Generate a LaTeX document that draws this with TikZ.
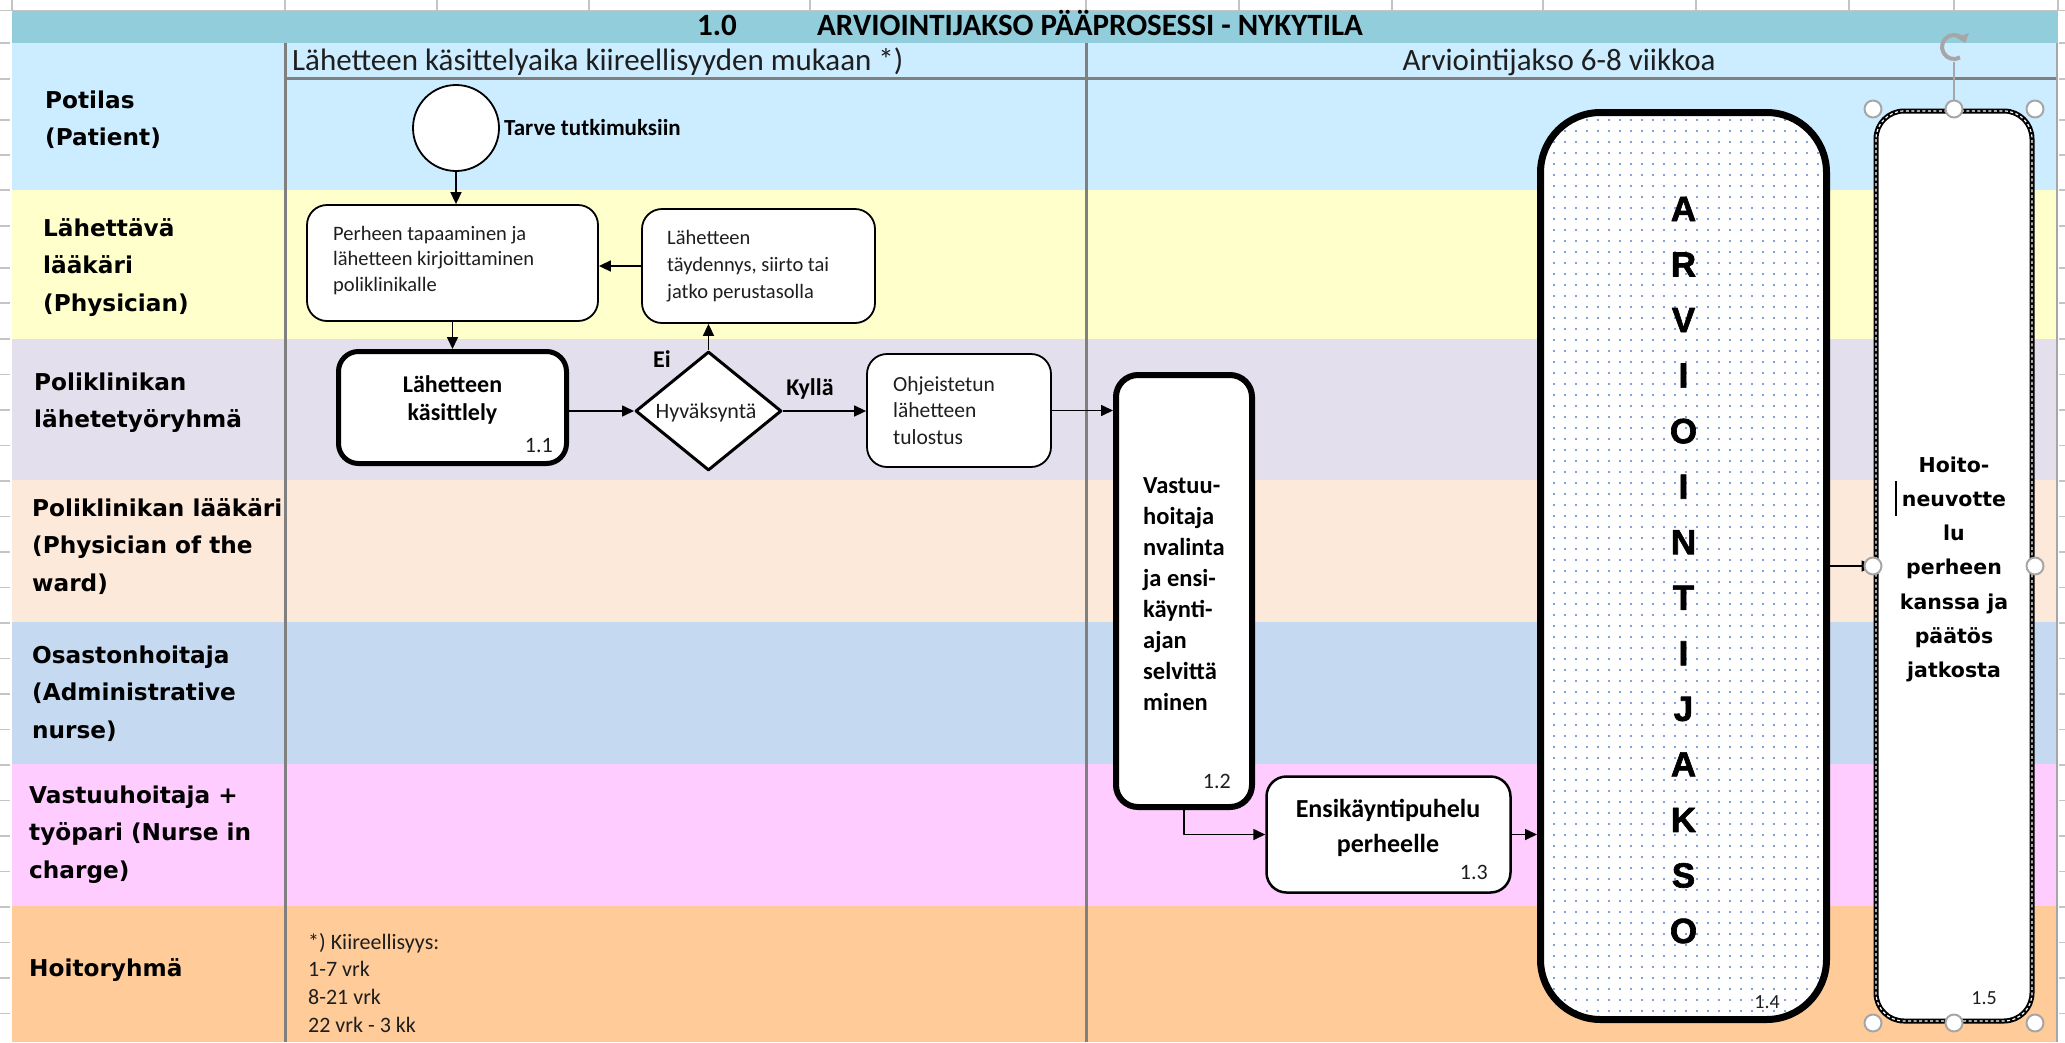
\documentclass[tikz,border=0pt]{standalone}
\usepackage{fontspec}
\setmainfont{Carlito}
\newfontfamily\lanefont{DejaVu Sans}
\newfontfamily\blockfont{Liberation Sans Bold}[FakeBold=1.8]
\usetikzlibrary{arrows.meta,shapes.geometric,patterns.meta,calc}

\definecolor{titleband}{HTML}{92CDDC}
\definecolor{laneA}{HTML}{CCECFF}
\definecolor{laneB}{HTML}{FFFFCC}
\definecolor{laneC}{HTML}{E4DFEC}
\definecolor{laneD}{HTML}{FDE9D9}
\definecolor{laneE}{HTML}{C5D9F1}
\definecolor{laneF}{HTML}{FFCCFF}
\definecolor{laneG}{HTML}{FFCC99}
\definecolor{gridgray}{HTML}{808080}
\definecolor{tickgray}{HTML}{C4C4C4}
\definecolor{dotblue}{HTML}{5A82C6}
\definecolor{handlegray}{HTML}{A6A6A6}
\definecolor{inkgray}{HTML}{1E1E1E}

% multi-line text blocks whose baseline is the first line
\newcommand\Lstack[1]{\vtop{\halign{##\hfil\cr#1\crcr}}}
\newcommand\Cstack[1]{\vtop{\halign{\hfil##\hfil\cr#1\crcr}}}

% sparse dot grid used as the fill of the long assessment block
\tikzdeclarepattern{
  name=visiodots, type=uncolored,
  bounding box={(-5.25pt,-5.25pt) and (5.25pt,5.25pt)},
  tile size={(10.5pt,10.5pt)},
  code={\fill (0pt,0pt) circle (1.15pt);}
}

\tikzset{
  lanelabel/.style={font=\lanefont\bfseries\fontsize{23.2}{37.5}\selectfont, anchor=base west, inner sep=0pt, text=black},
  titletext/.style={font=\bfseries\fontsize{31}{31}\selectfont, inner sep=0pt, text=black},
  hdrtext/.style={font=\fontsize{31}{31}\selectfont, inner sep=0pt, text=inkgray},
  boxtext/.style={font=\fontsize{20.5}{25.5}\selectfont, anchor=base west, inner sep=0pt, text=inkgray},
  boldtext/.style={font=\bfseries\fontsize{24}{28}\selectfont, inner sep=0pt, text=black},
  stepno/.style={font=\fontsize{22}{22}\selectfont, anchor=base east, inner sep=0pt, text=inkgray},
  proc/.style={draw=black, line width=1.8pt, rounded corners=20pt, fill=white, inner sep=0pt},
  procthick/.style={proc, line width=5pt},
  flow/.style={draw=black, line width=1.6pt, -{Triangle[length=12pt,width=11pt]}},
  selhandle/.style={circle, draw=handlegray, line width=2pt, fill=white, minimum size=17pt, inner sep=0pt},
  bigletter/.style={font=\blockfont\fontsize{35}{35}\selectfont, anchor=base, inner sep=0pt, text=black},
}

\begin{document}
\begin{tikzpicture}[x=1pt, y=-1pt, line join=round]
\useasboundingbox (0,0) rectangle (2065,1042);
\fill[white] (0,0) rectangle (2065,1042);

% ---- swimlane background ----
\fill[titleband] (12,10) rectangle (2058,43);
\fill[laneA] (12,43) rectangle (2058,190);
\fill[laneB] (12,190) rectangle (2058,339);
\fill[laneC] (12,339) rectangle (2058,480);
\fill[laneD] (12,480) rectangle (2058,622);
\fill[laneE] (12,622) rectangle (2058,764);
\fill[laneF] (12,764) rectangle (2058,906);
\fill[laneG] (12,906) rectangle (2058,1042);

% sheet grid ticks around the edges
\draw[tickgray, line width=1pt] (0,10) -- (2065,10);
\foreach \cx in {12,285,437,589,810,1086,1239,1392,1543,1696,1849,1954,2058}
  \draw[tickgray, line width=1.2pt] (\cx,0) -- (\cx,10);
\foreach \ry in {43,79,120,155,190,226,268,303,339,374.5,410,445.5,481,516.5,552,587.5,623,658.5,694,729.5,765,800.5,836,871.5,907,942.5,978,1013.5}{
  \draw[tickgray, line width=1.2pt] (0,\ry) -- (10,\ry);
  \draw[tickgray, line width=1.2pt] (2059,\ry) -- (2065,\ry);
}

% lane and phase separators
\draw[gridgray, line width=3pt] (285,43) -- (285,1042);
\draw[gridgray, line width=3pt] (1086,43) -- (1086,1042);
\draw[gridgray, line width=3pt] (285,78) -- (2058,78);
\draw[gridgray!70, line width=2pt] (2057,43) -- (2057,1042);

% ---- title and phase headers ----
\node[titletext, anchor=base] (tnum) at (717,35) {1.0};
\node[titletext, anchor=base west] (ttitle) at (817,35) {ARVIOINTIJAKSO PÄÄPROSESSI - NYKYTILA};
\node[hdrtext, anchor=base west] (hdrA) at (292,70) {Lähetteen käsittelyaika kiireellisyyden mukaan *)};
\node[hdrtext, anchor=base] (hdrB) at (1559,70) {Arviointijakso 6-8 viikkoa};

% ---- lane labels ----
\node[lanelabel] (lanePat) at (45,108) {\Lstack{Potilas\cr (Patient)}};
\node[lanelabel] (laneRef) at (43,236) {\Lstack{Lähettävä\cr lääkäri\cr (Physician)}};
\node[lanelabel] (laneTeam) at (34,390) {\Lstack{Poliklinikan\cr lähetetyöryhmä}};
\node[lanelabel] (laneDoc) at (32,516) {\Lstack{Poliklinikan lääkäri\cr (Physician of the\cr ward)}};
\node[lanelabel] (laneAdm) at (32,663) {\Lstack{Osastonhoitaja\cr (Administrative\cr nurse)}};
\node[lanelabel] (laneNur) at (29,803) {\Lstack{Vastuuhoitaja +\cr työpari (Nurse in\cr charge)}};
\node[lanelabel] (laneCare) at (29,976) {Hoitoryhmä};

% ---- process shapes ----
\node[circle, draw=black, line width=1.8pt, fill=white, minimum size=86pt, inner sep=0pt] (start) at (456,128) {};
\node[font=\bfseries\fontsize{23}{23}\selectfont, anchor=base west, inner sep=0pt] (need) at (504,135) {Tarve tutkimuksiin};

\node[proc, minimum width=291pt, minimum height=116pt] (meet) at (452.5,263) {};
\node[boxtext] (meetT) at (333,240) {\Lstack{Perheen tapaaminen ja\cr lähetteen kirjoittaminen\cr poliklinikalle}};

\node[proc, minimum width=233pt, minimum height=114pt] (complete) at (758.5,266) {};
\node[boxtext, font=\fontsize{20.5}{27}\selectfont] (completeT) at (667,244) {\Lstack{Lähetteen\cr täydennys, siirto tai\cr jatko perustasolla}};

\node[procthick, minimum width=228pt, minimum height=112pt] (handling) at (452.5,407.5) {};
\node[boldtext, anchor=base] (handlingT) at (452.5,392) {\Cstack{Lähetteen\cr käsittlely}};
\node[stepno] (n11) at (553,452) {1.1};

\node[diamond, draw=black, line width=3pt, fill=white, minimum width=146pt, minimum height=119pt, inner sep=0pt] (accept) at (708.5,411) {};
\node[font=\fontsize{22}{22}\selectfont, anchor=base, inner sep=0pt, text=inkgray] (acceptT) at (706,418) {Hyväksyntä};

\node[proc, minimum width=184pt, minimum height=113pt] (printout) at (959,410.5) {};
\node[boxtext, font=\fontsize{21.5}{26.5}\selectfont] (printoutT) at (893,391) {\Lstack{Ohjeistetun\cr lähetteen\cr tulostus}};

\node[proc, line width=6pt, rounded corners=22pt, minimum width=136pt, minimum height=432pt] (assign) at (1184,591) {};
\node[boldtext, anchor=base west, font=\bfseries\fontsize{24.5}{31}\selectfont] (assignT) at (1143,493) {\Lstack{Vastuu-\cr hoitaja\cr nvalinta\cr ja ensi-\cr käynti-\cr ajan\cr selvittä\cr minen}};
\node[stepno] (n12) at (1231,788) {1.2};

\node[proc, line width=2.5pt, minimum width=244pt, minimum height=116pt] (call) at (1388.5,834.5) {};
\node[boldtext, anchor=base, font=\bfseries\fontsize{26}{35}\selectfont] (callT) at (1388,817) {\Cstack{Ensikäyntipuhelu\cr perheelle}};
\node[stepno] (n13) at (1488,879) {1.3};

\node[draw=black, line width=7pt, rounded corners=60pt, minimum width=286pt, minimum height=907pt, inner sep=0pt,
      preaction={fill=white}, pattern={visiodots}, pattern color=dotblue] (period) at (1683.5,566) {};
\foreach \ch [count=\i] in {A,R,V,I,O,I,N,T,I,J,A,K,S,O}
  \node[bigletter] (letter\i) at (1683.5,{221+(\i-1)*55.54}) {\ch};
\node[stepno, font=\fontsize{20}{20}\selectfont] (n14) at (1780,1008) {1.4};

\node[proc, line width=5pt, rounded corners=28pt, minimum width=156pt, minimum height=910pt] (plan) at (1954,566) {};
\draw[white, line width=1.2pt, dash pattern=on 3pt off 2.5pt, rounded corners=28pt] (1876,111) rectangle (2032,1021);
\node[font=\lanefont\bfseries\fontsize{20.5}{34.3}\selectfont, anchor=base, inner sep=0pt] (planT) at (1954,472)
  {\Cstack{Hoito-\cr neuvotte\cr lu\cr perheen\cr kanssa ja\cr päätös\cr jatkosta}};
\draw[black, line width=1.3pt] (1896,481) -- (1896,516);
\node[stepno, font=\fontsize{20}{20}\selectfont] (n15) at (1997,1004) {1.5};

% ---- connectors ----
\draw[flow] (start.south) -- (start.south |- meet.north);
\draw[flow] (meet.south) -- (handling.north);
\draw[flow] (handling.east |- accept.west) -- (accept.west);
\draw[flow] (accept.north) -- (accept.north |- complete.south);
\draw[flow] (complete.west) -- (complete.west -| meet.east);
\draw[flow] (accept.east) -- (accept.east -| printout.west);
\draw[flow] (printout.east) -- (printout.east -| assign.west);
\draw[flow] (assign.south) |- (call.west);
\draw[flow] (call.east) -- (call.east -| period.west);
\draw[flow] (period.east) -- (plan.west);

\node[font=\bfseries\fontsize{24}{24}\selectfont, anchor=base, inner sep=0pt] (no) at (662,367) {Ei};
\node[font=\bfseries\fontsize{24}{24}\selectfont, anchor=base, inner sep=0pt] (yes) at (810,395) {Kyllä};

% ---- urgency footnote ----
\node[boxtext, font=\fontsize{22}{27.7}\selectfont, text=inkgray] (note) at (308,949)
  {\Lstack{*) Kiireellisyys:\cr 1-7 vrk\cr 8-21 vrk\cr 22 vrk - 3 kk}};

% ---- selection frame handles on the last block ----
\node[selhandle] (h1) at (1873,109) {};
\node[selhandle] (h2) at (1954,109) {};
\node[selhandle] (h3) at (2035,109) {};
\node[selhandle] (h4) at (1873,566) {};
\node[selhandle] (h5) at (2035,566) {};
\node[selhandle] (h6) at (1873,1023) {};
\node[selhandle] (h7) at (1954,1023) {};
\node[selhandle] (h8) at (2035,1023) {};
\coordinate (rot) at (1954,47);
\draw[handlegray, line width=2pt] (1954,62) -- (h2.north);
\draw[handlegray, line width=4pt, -{Triangle[length=8pt,width=13pt]}]
  ($(rot)+(-60:12pt)$) arc[start angle=-60, end angle=-340, radius=12pt];
\end{tikzpicture}
\end{document}
